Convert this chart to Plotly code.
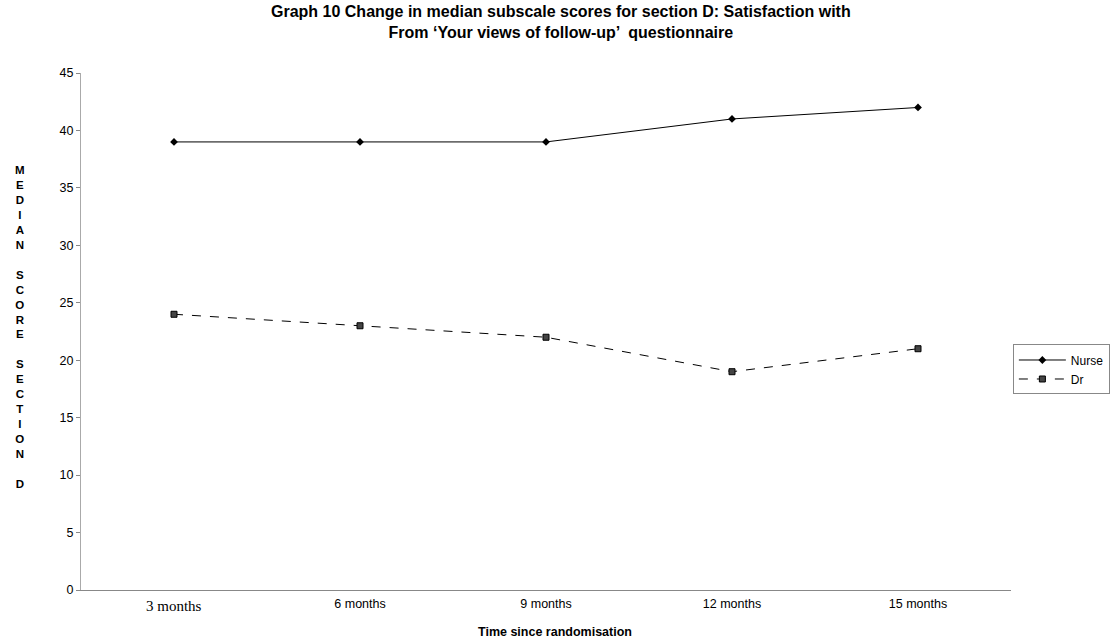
import plotly.graph_objects as go

categories = ["3 months", "6 months", "9 months", "12 months", "15 months"]
nurse = [39, 39, 39, 41, 42]
dr = [24, 23, 22, 19, 21]
y_ticks = [0, 5, 10, 15, 20, 25, 30, 35, 40, 45]

xpos = list(range(len(categories)))
# first tick label is set in a serif face in the original, drawn separately below
tick_text = [""] + categories[1:]

fig = go.Figure()
fig.add_trace(go.Scatter(
    x=xpos, y=nurse, name="Nurse", mode="lines+markers",
    line=dict(color="black", width=1),
    marker=dict(symbol="diamond", size=6, color="black"),
))
fig.add_trace(go.Scatter(
    x=xpos, y=dr, name="Dr", mode="lines+markers",
    line=dict(color="black", width=1, dash="dash"),
    marker=dict(symbol="square", size=6, color="#444444", line=dict(color="black", width=1)),
))

ylabel = "M<br>E<br>D<br>I<br>A<br>N<br> <br>S<br>C<br>O<br>R<br>E<br> <br>S<br>E<br>C<br>T<br>I<br>O<br>N<br> <br>D"

fig.update_layout(
    width=1118, height=643,
    margin=dict(l=81, r=107, t=73, b=53, autoexpand=False),
    paper_bgcolor="white", plot_bgcolor="white",
    font=dict(family="Liberation Sans, Arial, sans-serif", size=12, color="black"),
    xaxis=dict(
        range=[-0.5, 4.5], tickmode="array", tickvals=xpos,
        ticktext=tick_text, showgrid=False, zeroline=False,
        showline=True, linecolor="#888888", linewidth=1, ticks="",
        tickfont=dict(size=12.5), ticklabelstandoff=2,
    ),
    yaxis=dict(
        range=[0, 45], tickmode="array", tickvals=y_ticks, showgrid=False, zeroline=False,
        showline=True, linecolor="#aaaaaa", linewidth=1, ticks="outside", ticklen=4,
        tickcolor="#888888", tickfont=dict(size=12.5),
    ),
    legend=dict(
        x=1.002, xanchor="left", y=0.4265, yanchor="middle",
        bordercolor="#888888", borderwidth=1, font=dict(size=12),
        bgcolor="white", tracegroupgap=0, itemwidth=47,
    ),
    showlegend=True,
)

# serif first category label
fig.add_annotation(
    text=categories[0], xref="x", yref="paper", x=xpos[0], y=0, yshift=-6,
    xanchor="center", yanchor="top", showarrow=False,
    font=dict(size=15, family="Liberation Serif, Times New Roman, serif"),
)

fig.add_annotation(
    text="<b>Time since randomisation</b>", xref="paper", yref="paper",
    x=0.51, y=0, yshift=-33, xanchor="center", yanchor="top", showarrow=False,
    font=dict(size=12.5),
)

fig.add_annotation(
    text="<b>Graph 10 Change in median subscale scores for section D: Satisfaction with<br>From \u2018Your views of follow-up\u2019  questionnaire</b>",
    xref="paper", yref="paper", x=0.516, y=1.139, xanchor="center", yanchor="top",
    showarrow=False, font=dict(size=16), align="center",
)

fig.add_annotation(
    text="<b>" + ylabel + "</b>", xref="paper", yref="paper",
    x=-0.066, y=0.508, xanchor="center", yanchor="middle", showarrow=False,
    font=dict(size=11.5), align="center",
)

fig.write_html("out.html")
